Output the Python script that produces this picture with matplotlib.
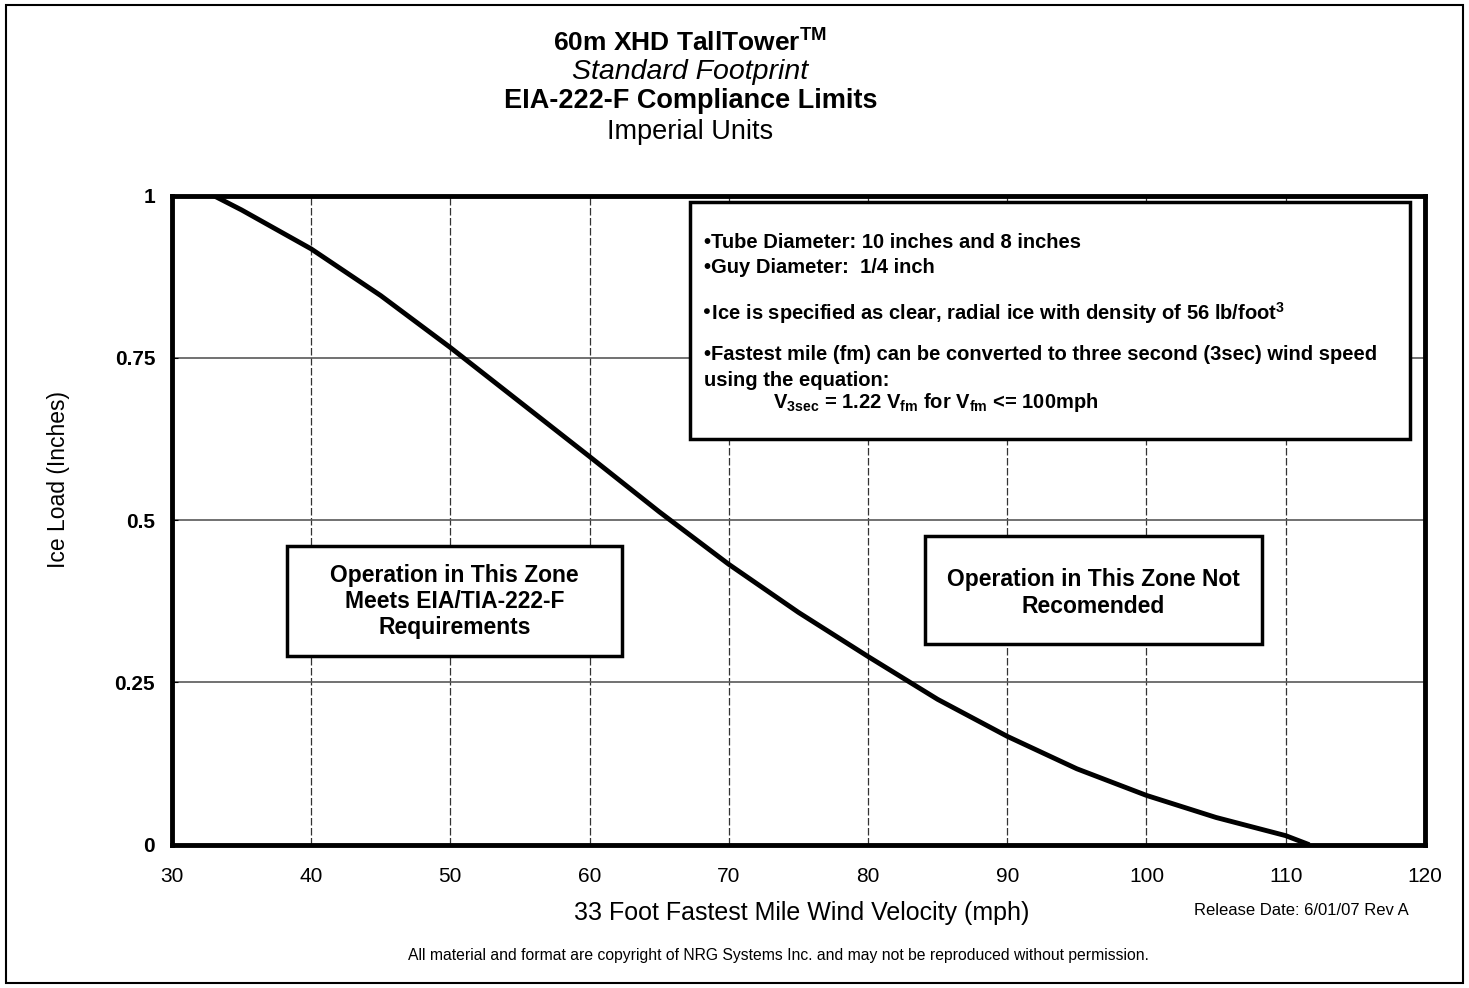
import matplotlib
matplotlib.use("Agg")
import matplotlib.pyplot as plt
from matplotlib.patches import Rectangle

# ice load limit curve
wind_mph = [33, 35, 40, 45, 50, 55, 60, 65, 70, 75, 80, 85, 90, 95, 100, 105, 110, 111.7]
ice_in = [1.0, 0.978, 0.918, 0.846, 0.766, 0.682, 0.598, 0.513, 0.432, 0.358, 0.290,
          0.224, 0.167, 0.117, 0.076, 0.042, 0.014, 0.0]

x_ticks = [30, 40, 50, 60, 70, 80, 90, 100, 110, 120]
y_ticks = [0, 0.25, 0.5, 0.75, 1]
y_labels = ["0", "0.25", "0.5", "0.75", "1"]

title_lines = ["60m XHD TallTower$^{TM}$", "Standard Footprint",
               "EIA-222-F Compliance Limits", "Imperial Units"]
info_lines = [
    "\u2022Tube Diameter: 10 inches and 8 inches",
    "\u2022Guy Diameter:  1/4 inch",
    "\u2022Ice is specified as clear, radial ice with density of 56 lb/foot$^{3}$",
    "\u2022Fastest mile (fm) can be converted to three second (3sec) wind speed",
    "using the equation:",
    "V$_{3sec}$ = 1.22 V$_{fm}$ for V$_{fm}$ <= 100mph",
]
left_zone = "Operation in This Zone\nMeets EIA/TIA-222-F\nRequirements"
right_zone = "Operation in This Zone Not\nRecomended"

plt.rcParams["font.family"] = ["Liberation Sans", "DejaVu Sans"]
plt.rcParams["mathtext.default"] = "regular"

fig = plt.figure(figsize=(14.69, 9.88), dpi=100)
ax = fig.add_axes([0.117, 0.145, 0.853, 0.657])

ax.plot(wind_mph, ice_in, color="black", lw=3.5, solid_capstyle="butt",
        solid_joinstyle="round", zorder=3)

ax.set_xlim(30, 120)
ax.set_ylim(0, 1)
ax.set_xticks(x_ticks)
ax.set_yticks(y_ticks)
ax.set_yticklabels(y_labels, fontweight="bold")
ax.tick_params(axis="x", length=0, pad=16, labelsize=15)
ax.tick_params(axis="y", length=4, direction="in", pad=12, labelsize=15)

for v in x_ticks[1:-1]:
    ax.axvline(v, color="0.2", lw=0.9, ls=(0, (6, 2)), zorder=1)
for v in y_ticks[1:-1]:
    ax.axhline(v, color="0.35", lw=1.2, zorder=1)

for sp in ax.spines.values():
    sp.set_linewidth(3.5)

ax.set_xlabel("33 Foot Fastest Mile Wind Velocity (mph)", fontsize=18)
ax.xaxis.set_label_coords(0.503, -0.087)
ax.set_ylabel("Ice Load (Inches)", fontsize=16.5)
ax.yaxis.set_label_coords(-0.081, 0.562)

# info box
ax.add_patch(Rectangle((67.2, 0.625), 51.7, 0.365, facecolor="white",
                       edgecolor="black", lw=2.5, zorder=4))
info_y = [242, 267, 313, 354, 380, 402]
info_x = [704, 704, 700, 704, 704, 773]
for line, px, py in zip(info_lines, info_x, info_y):
    ax.text(px / 1469, 1 - py / 988, line, transform=fig.transFigure,
            fontweight="bold", fontsize=14.5, va="center", ha="left", zorder=5)

# zone boxes
ax.add_patch(Rectangle((38.3, 0.29), 24.0, 0.17, facecolor="white",
                       edgecolor="black", lw=2.5, zorder=4))
ax.text(50.3, 0.375, left_zone, fontsize=16.5, fontweight="bold", ha="center",
        va="center", linespacing=1.15, zorder=5)
ax.add_patch(Rectangle((84.1, 0.31), 24.2, 0.165, facecolor="white",
                       edgecolor="black", lw=2.5, zorder=4))
ax.text(96.2, 0.388, right_zone, fontsize=16.5, fontweight="bold", ha="center",
        va="center", linespacing=1.2, zorder=5)

# titles
ys = [43, 72, 101, 132]
styles = [dict(fontweight="bold", fontsize=19), dict(style="italic", fontsize=20.5),
          dict(fontweight="bold", fontsize=19.5), dict(fontsize=19.5)]
for line, py, st in zip(title_lines, ys, styles):
    fig.text(0.47, 1 - py / 988, line, ha="center", va="center", **st)

fig.text(0.886, 0.078, "Release Date: 6/01/07 Rev A", fontsize=12,
         ha="center", va="center")
fig.text(0.530, 0.033,
         "All material and format are copyright of NRG Systems Inc. and may not be reproduced without permission.",
         fontsize=11.3, ha="center", va="center")

fig.add_artist(Rectangle((0.004, 0.005), 0.992, 0.99, transform=fig.transFigure,
                         fill=False, edgecolor="black", lw=1.5))

fig.savefig("out.png", dpi=100)
